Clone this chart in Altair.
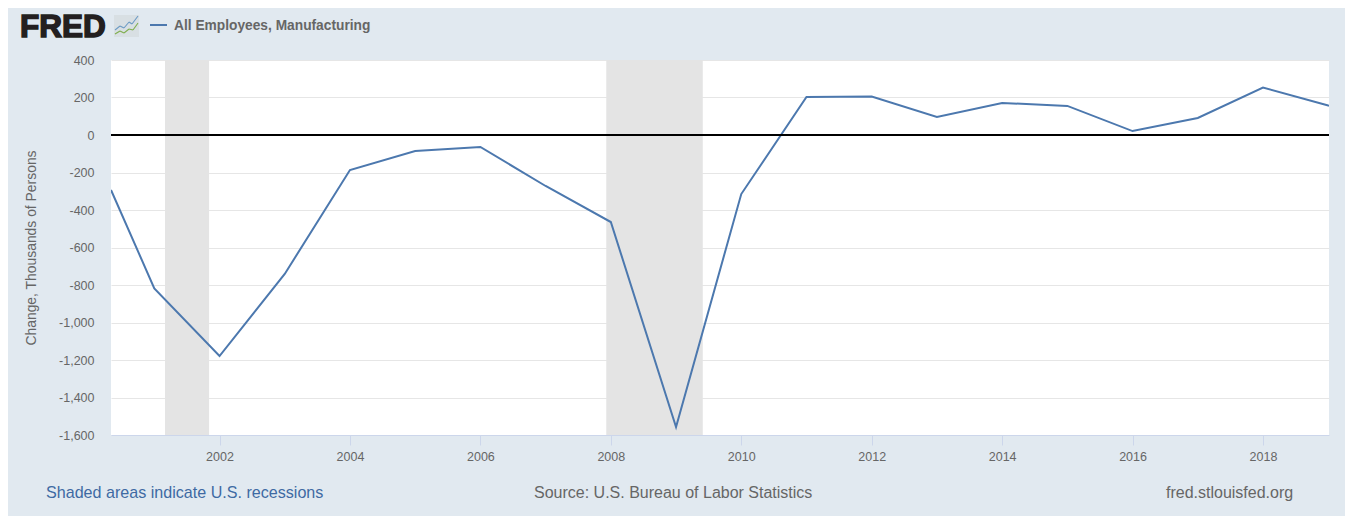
import altair as alt
import pandas as pd

years = [2000.336, 2001, 2002, 2003, 2004, 2005, 2006, 2007, 2008, 2009, 2010,
         2011, 2012, 2013, 2014, 2015, 2016, 2017, 2018, 2019, 2019.012]
change = [-293, -818, -1179, -741, -187, -85, -64, -272, -464, -1557, -315,
          203, 205, 96, 171, 155, 21, 91, 253, 157, 156]
rec_start = [2001.164, 2007.93]
rec_end = [2001.84, 2009.41]
y_ticks = list(range(-1600, 401, 200))
x_ticks = list(range(2002, 2019, 2))

BG = "#e1e9f0"
LINE = "#4c78ae"
GREY = "#666666"
FONT = "Liberation Sans"
L, T = 111, 60  # plot origin in page pixels


def px(x):
    return x - L


def py(y):
    return y - T


line_df = pd.DataFrame({"year": years, "change": change})
rec_df = pd.DataFrame({"start": rec_start, "end": rec_end})

x_scale = alt.Scale(domain=[2000.336, 2019.012], nice=False, zero=False)
y_scale = alt.Scale(domain=[-1600, 400], nice=False, zero=False)

x_axis = alt.Axis(values=x_ticks, format="d", title=None, grid=False, labelFontSize=12.5,
                  labelColor=GREY, labelFont=FONT, tickColor="#ccd6eb", tickSize=10,
                  domainColor="#ccd6eb", domainWidth=1, labelPadding=5, labelFlush=False)
y_axis = alt.Axis(values=y_ticks, title="Change, Thousands of Persons", grid=True,
                  gridColor="#e6e6e6", gridWidth=1, labelExpr="replace(format(datum.value, ','), '−', '-')",
                  labelFontSize=12.5, labelColor=GREY, labelFont=FONT, ticks=False, domain=False,
                  labelPadding=17, titleFont=FONT, titleFontSize=13.9, titleColor=GREY,
                  titleFontWeight="normal", titlePadding=20)

base_line = alt.Chart(line_df).mark_line(color=LINE, strokeWidth=2, clip=True).encode(
    x=alt.X("year:Q", scale=x_scale, axis=x_axis),
    y=alt.Y("change:Q", scale=y_scale, axis=y_axis),
)
bands = alt.Chart(rec_df).mark_rect(color="#e4e4e4").encode(
    x=alt.X("start:Q", scale=x_scale, axis=x_axis),
    x2="end:Q",
)
zero = alt.Chart(pd.DataFrame({"z": [0]})).mark_rule(color="#000000", strokeWidth=2).encode(
    y=alt.Y("z:Q", scale=y_scale, axis=y_axis)
)


def label(text, x, y, size, color, align="left", weight="normal", stroke=None, baseline="middle"):
    kw = {}
    if stroke:
        kw = {"stroke": color, "strokeWidth": stroke}
    return alt.Chart(pd.DataFrame({"t": [text]})).mark_text(
        align=align, baseline=baseline, font=FONT, fontSize=size, color=color,
        fontWeight=weight, **kw
    ).encode(x=alt.value(px(x)), y=alt.value(py(y)), text="t:N")


def seg(x1, y1, x2, y2, color, width=1.0):
    return alt.Chart(pd.DataFrame({"a": [0]})).mark_rule(color=color, strokeWidth=width).encode(
        x=alt.value(px(x1)), x2=alt.value(px(x2)), y=alt.value(py(y1)), y2=alt.value(py(y2))
    )


icon_bg = alt.Chart(pd.DataFrame({"a": [0]})).mark_rect(color="#d8dfe3").encode(
    x=alt.value(px(114)), x2=alt.value(px(139)), y=alt.value(py(15)), y2=alt.value(py(37))
)
blue_path = [(115, 30), (120, 26), (124, 28), (129, 22), (132, 24), (138, 16)]
green_path = [(115, 34), (120, 31), (124, 33), (129, 29), (133, 30), (138, 23)]
icon = [icon_bg]
for path, col in ((blue_path, "#6b9ac4"), (green_path, "#7fae4e")):
    for (a, b), (c, d) in zip(path[:-1], path[1:]):
        icon.append(seg(a, b, c, d, col, 1.1))

chart = alt.layer(
    bands, base_line, zero,
    label("FRED", 20, 37, 31.5, "#231f20", weight="bold", stroke=1.5, baseline="alphabetic"),
    *icon,
    seg(150, 25, 167, 25, LINE, 2),
    label("All Employees, Manufacturing", 174, 25.5, 13.75, GREY, weight="bold"),
    label("Shaded areas indicate U.S. recessions", 46, 492.5, 16.1, "#3e6aa3"),
    label("Source: U.S. Bureau of Labor Statistics", 534, 492.5, 16, GREY),
    label("fred.stlouisfed.org", 1166, 492.5, 16, GREY),
).properties(
    width=1218, height=375,
    padding={"left": 103, "top": 52, "right": 16, "bottom": 81},
    autosize=alt.AutoSizeParams(type="none", contains="content"),
    background=BG,
).configure_view(fill="#ffffff", stroke=None)

chart.save("out.html", embed_options={"renderer": "svg", "actions": False})
